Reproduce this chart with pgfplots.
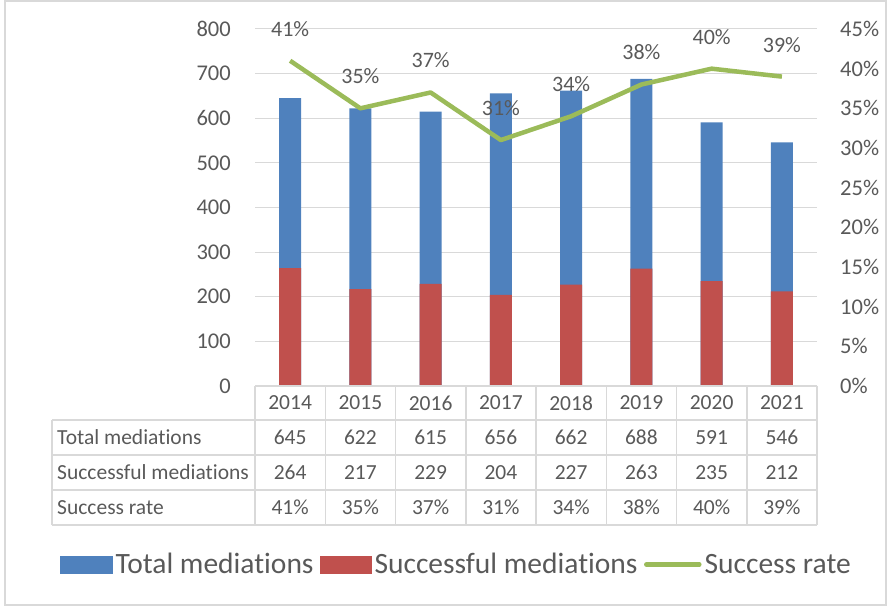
\documentclass[border=0pt]{standalone}
\usepackage{pgfplots}
\pgfplotsset{compat=1.18}
\usepackage{pgfplotstable}
\usepackage{fontspec}
\setmainfont[Ligatures=NoCommon]{Carlito}
\definecolor{barblue}{HTML}{4F81BD}
\definecolor{barred}{HTML}{C0504D}
\definecolor{linegreen}{HTML}{9BBB59}
\definecolor{textgray}{HTML}{595959}
\definecolor{gridgray}{HTML}{D9D9D9}

\pgfplotstableread{
x year total success rate
0 2014 645 264 41
1 2015 622 217 35
2 2016 615 229 37
3 2017 656 204 31
4 2018 662 227 34
5 2019 688 263 38
6 2020 591 235 40
7 2021 546 212 39
}\datatable

\begin{document}
\begin{tikzpicture}
\useasboundingbox (0pt,0pt) rectangle (888pt,607pt);
\draw[gridgray, line width=1.2pt] (5pt,2pt) rectangle (886pt,606pt);

% bars, left axis
\begin{axis}[
  at={(255pt,221pt)}, anchor=south west,
  scale only axis, width=562pt, height=357pt,
  xmin=-0.5, xmax=7.5, ymin=0, ymax=800,
  xtick=\empty,
  ytick={0,100,...,800},
  ymajorgrids=true,
  grid style={gridgray, line width=1pt},
  axis line style={draw=none},
  major tick length=0pt,
  tick label style={font=\fontsize{22.5pt}{27pt}\selectfont, text=textgray},
  yticklabel style={inner sep=0pt, anchor=east, xshift=-24pt},
  /pgf/number format/assume math mode=true,
  clip=false,
]
\addplot[ybar, bar width=22pt, bar shift=0pt, fill=barblue, draw=none] table[x=x, y=total] {\datatable};
\addplot[ybar, bar width=22pt, bar shift=0pt, fill=barred, draw=none] table[x=x, y=success] {\datatable};
\end{axis}

% rate line, right axis
\begin{axis}[
  at={(255pt,221pt)}, anchor=south west,
  scale only axis, width=562pt, height=357pt,
  xmin=-0.5, xmax=7.5, ymin=0, ymax=45,
  xtick=\empty,
  ytick={0,5,...,45},
  yticklabel pos=right,
  yticklabel={\pgfmathprintnumber{\tick}\%},
  axis line style={draw=none},
  major tick length=0pt,
  tick label style={font=\fontsize{22.5pt}{27pt}\selectfont, text=textgray},
  yticklabel style={inner sep=0pt, anchor=west, xshift=23pt},
  /pgf/number format/assume math mode=true,
  clip=false,
  legend columns=3,
  legend style={at={(-0.347,-0.5)}, anchor=west, draw=none, fill=none,
    inner sep=0pt, font=\fontsize{29.5pt}{35pt}\selectfont, text=textgray,
    nodes={inner sep=3pt},
    /tikz/every even column/.append style={column sep=3.5pt}},
  legend cell align=left,
]
\addlegendimage{legend image code/.code={\fill[barblue] (0pt,-8.5pt) rectangle (52pt,8.5pt);}}
\addlegendimage{legend image code/.code={\fill[barred] (0pt,-8.5pt) rectangle (51pt,8.5pt);}}
\addplot[linegreen, line width=4.5pt, line join=round,
  legend image code/.code={\draw[linegreen, line width=4.5pt, line cap=round] (2pt,0pt) -- (55pt,0pt);},
  nodes near coords={\pgfmathprintnumber{\pgfplotspointmeta}\%},
  every node near coord/.append style={font=\fontsize{22pt}{26pt}\selectfont, text=textgray, anchor=center, yshift=32pt}]
  table[x=x, y=rate] {\datatable};
\legend{Total mediations, Successful mediations, Success rate}
\end{axis}

% data table
\begin{scope}[x=1pt, y=1pt]
\draw[gridgray, line width=1.5pt] (255,221) -- (817,221);
\foreach \k in {1,2,3} {
  \draw[gridgray, line width=1.5pt] (52,{187-35*(\k-1)}) -- (817,{187-35*(\k-1)});
}
\draw[gridgray, line width=1.5pt] (52,82) -- (817,82);
\draw[gridgray, line width=1.5pt] (52,187) -- (52,82);
\foreach \k in {0,...,8} {
  \draw[gridgray, line width=1.5pt] ({255+70.25*\k},221) -- ({255+70.25*\k},82);
}
\begin{scope}[every node/.style={text=textgray, font=\fontsize{21.5pt}{26pt}\selectfont, inner sep=0pt}]
\node[anchor=west] at (57,169.5) {Total mediations};
\node[anchor=west] at (57,134.5) {Successful mediations};
\node[anchor=west] at (57,99.5) {Success rate};
\foreach \i in {0,...,7} {
  \pgfplotstablegetelem{\i}{year}\of\datatable \let\yr\pgfplotsretval
  \node at ({290.125+70.25*\i},204) {\yr};
  \pgfplotstablegetelem{\i}{total}\of\datatable \let\tot\pgfplotsretval
  \node at ({290.125+70.25*\i},169.5) {\tot};
  \pgfplotstablegetelem{\i}{success}\of\datatable \let\suc\pgfplotsretval
  \node at ({290.125+70.25*\i},134.5) {\suc};
  \pgfplotstablegetelem{\i}{rate}\of\datatable \let\rt\pgfplotsretval
  \node at ({290.125+70.25*\i},99.5) {\rt\%};
}
\end{scope}
\end{scope}
\end{tikzpicture}
\end{document}
